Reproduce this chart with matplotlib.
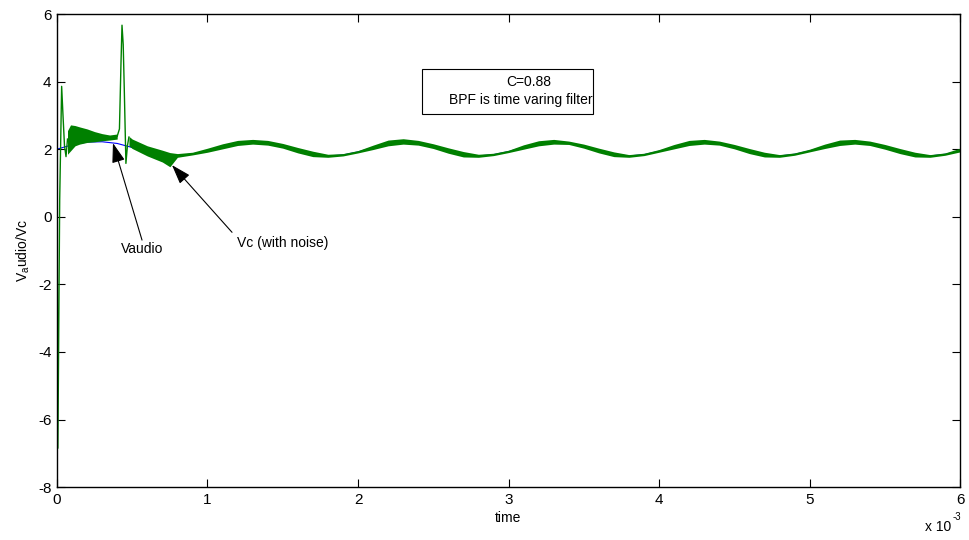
import matplotlib
matplotlib.use("Agg")
import matplotlib.pyplot as plt
from matplotlib.patches import Rectangle

plt.rcParams["font.family"] = ["Liberation Sans", "DejaVu Sans"]
plt.rcParams["mathtext.fontset"] = "custom"
plt.rcParams["mathtext.rm"] = "Liberation Sans"
plt.rcParams["mathtext.it"] = "Liberation Sans"
plt.rcParams["axes.unicode_minus"] = False

# time axis in ms (shown with the x 10^-3 multiplier)
t_audio = [0.0, 0.1, 0.2, 0.3, 0.4, 0.5, 0.6, 0.7, 0.8, 0.9,
           1.0, 1.1, 1.2, 1.3, 1.4, 1.5, 1.6, 1.7, 1.8, 1.9,
           2.0, 2.1, 2.2, 2.3, 2.4, 2.5, 2.6, 2.7, 2.8, 2.9,
           3.0, 3.1, 3.2, 3.3, 3.4, 3.5, 3.6, 3.7, 3.8, 3.9,
           4.0, 4.1, 4.2, 4.3, 4.4, 4.5, 4.6, 4.7, 4.8, 4.9,
           5.0, 5.1, 5.2, 5.3, 5.4, 5.5, 5.6, 5.7, 5.8, 5.9, 6.0]
v_audio = [2.00, 2.13, 2.21, 2.22, 2.17, 2.05, 1.94, 1.85, 1.81, 1.86,
           1.96, 2.08, 2.18, 2.22, 2.19, 2.10, 1.97, 1.86, 1.80, 1.83,
           1.92, 2.05, 2.17, 2.22, 2.19, 2.09, 1.96, 1.85, 1.80, 1.84,
           1.93, 2.06, 2.17, 2.22, 2.19, 2.09, 1.96, 1.85, 1.80, 1.84,
           1.94, 2.07, 2.18, 2.22, 2.18, 2.07, 1.94, 1.84, 1.80, 1.85,
           1.95, 2.08, 2.18, 2.22, 2.18, 2.07, 1.94, 1.84, 1.80, 1.85, 1.95]

# Vc start-up transient and the switching spike
t_start = [0.0, 0.006, 0.018, 0.031, 0.040, 0.050, 0.060, 0.070]
v_start = [2.0, -6.85, 0.5, 3.86, 3.0, 2.1, 1.78, 2.3]
t_spike = [0.40, 0.415, 0.425, 0.432, 0.440, 0.447, 0.458, 0.468, 0.478]
v_spike = [2.38, 2.6, 4.5, 5.67, 5.1, 3.8, 1.58, 2.1, 2.36]

# Vc noise envelope before the spike
t_band1 = [0.07, 0.09, 0.12, 0.15, 0.20, 0.25, 0.30, 0.35, 0.40]
hi_band1 = [2.55, 2.72, 2.70, 2.66, 2.60, 2.52, 2.46, 2.42, 2.45]
lo_band1 = [1.85, 1.95, 2.10, 2.15, 2.20, 2.22, 2.25, 2.27, 2.30]

# Vc noise envelope after the spike
t_band2 = [0.478, 0.5, 0.6, 0.7, 0.75, 0.8, 0.9,
           1.0, 1.1, 1.2, 1.3, 1.4, 1.5, 1.6, 1.7, 1.8, 1.9,
           2.0, 2.1, 2.2, 2.3, 2.4, 2.5, 2.6, 2.7, 2.8, 2.9,
           3.0, 3.1, 3.2, 3.3, 3.4, 3.5, 3.6, 3.7, 3.8, 3.9,
           4.0, 4.1, 4.2, 4.3, 4.4, 4.5, 4.6, 4.7, 4.8, 4.9,
           5.0, 5.1, 5.2, 5.3, 5.4, 5.5, 5.6, 5.7, 5.8, 5.9, 6.0]
hi_band2 = [2.38, 2.30, 2.10, 1.97, 1.90, 1.87, 1.91,
            2.03, 2.16, 2.26, 2.29, 2.26, 2.17, 2.05, 1.94, 1.85, 1.87,
            1.96, 2.12, 2.27, 2.31, 2.26, 2.16, 2.04, 1.93, 1.85, 1.88,
            1.97, 2.13, 2.25, 2.29, 2.24, 2.15, 2.03, 1.92, 1.84, 1.88,
            1.99, 2.14, 2.26, 2.29, 2.24, 2.14, 2.02, 1.91, 1.84, 1.89,
            2.00, 2.15, 2.27, 2.29, 2.24, 2.14, 2.02, 1.91, 1.84, 1.89, 2.03]
lo_band2 = [2.10, 2.02, 1.80, 1.62, 1.48, 1.76, 1.83,
            1.91, 2.01, 2.11, 2.15, 2.12, 2.03, 1.89, 1.78, 1.76, 1.80,
            1.89, 1.99, 2.10, 2.15, 2.12, 2.02, 1.88, 1.77, 1.76, 1.81,
            1.90, 2.00, 2.10, 2.15, 2.14, 2.03, 1.89, 1.78, 1.76, 1.81,
            1.91, 2.01, 2.11, 2.15, 2.12, 2.01, 1.87, 1.77, 1.76, 1.82,
            1.92, 2.02, 2.11, 2.15, 2.11, 2.00, 1.87, 1.77, 1.76, 1.82, 1.92]

GREEN = (0.0, 0.5, 0.0)
BLUE = (0.0, 0.0, 1.0)

fig = plt.figure(figsize=(9.69, 5.40), dpi=100)
ax = fig.add_axes([0.0588, 0.098, 0.932, 0.876])

ax.plot(t_audio, v_audio, color=BLUE, lw=0.8, zorder=1)
ax.fill_between(t_band1, lo_band1, hi_band1, color=GREEN, lw=0, zorder=2)
ax.fill_between(t_band2, lo_band2, hi_band2, color=GREEN, lw=0, zorder=2)
ax.plot(t_start, v_start, color=GREEN, lw=1.0, zorder=2)
ax.plot(t_spike, v_spike, color=GREEN, lw=1.0, zorder=2)

ax.set_xlim(0, 6)
ax.set_ylim(-8, 6)
ax.set_xticks(range(0, 7))
ax.set_yticks(range(-8, 7, 2))
ax.tick_params(direction="in", length=6, width=0.8, labelsize=11,
               top=True, right=True, pad=4)
for sp in ax.spines.values():
    sp.set_linewidth(1.0)

ax.set_xlabel("time", fontsize=10, labelpad=3)
ax.set_ylabel(r"V$_{\mathrm{a}}$udio/Vc", fontsize=10, labelpad=4)
fig.text(0.982, 0.012, "x 10", fontsize=10, ha="right", va="bottom")
fig.text(0.983, 0.034, "-3", fontsize=7, ha="left", va="bottom")

# annotation arrows
arrow = dict(arrowstyle="-|>,head_length=1.2,head_width=0.4",
             color="black", lw=0.8, shrinkA=0, shrinkB=0)
ax.annotate("", xy=(0.372, 2.18), xytext=(0.565, -0.69), arrowprops=arrow)
ax.text(0.565, -0.96, "Vaudio", fontsize=10, ha="center", va="center")
ax.annotate("", xy=(0.764, 1.53), xytext=(1.163, -0.46), arrowprops=arrow)
ax.text(1.50, -0.78, "Vc (with noise)", fontsize=10, ha="center", va="center")

# text box
ax.add_patch(Rectangle((2.425, 3.04), 1.135, 1.33, fill=False,
                       edgecolor="black", lw=0.8, zorder=4))
ax.text(3.136, 3.98, "C=0.88", fontsize=10, ha="center", va="center")
ax.text(3.08, 3.45, "BPF is time varing filter", fontsize=10,
        ha="center", va="center")

fig.savefig("out.png", dpi=100)
